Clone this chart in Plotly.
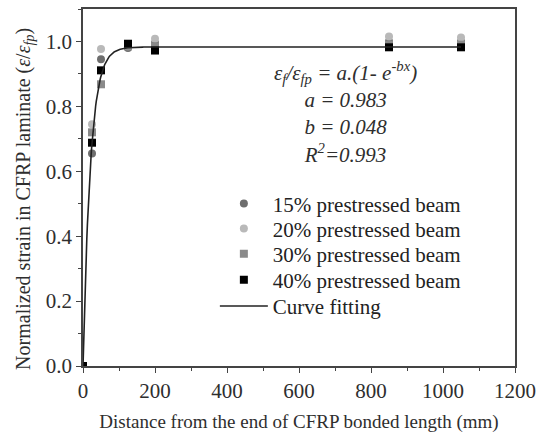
import numpy as np
import plotly.graph_objects as go

# Measured positions along the bonded length (mm)
distance = [0, 25, 50, 125, 200, 850, 1050]

# Normalized strain for each prestress level
strain_15 = [0.0, 0.655, 0.945, 0.980, 0.995, 1.000, 1.000]
strain_20 = [0.0, 0.745, 0.977, 0.985, 1.008, 1.015, 1.012]
strain_30 = [0.0, 0.720, 0.868, 0.985, 0.985, 0.990, 0.990]
strain_40 = [0.0, 0.688, 0.911, 0.993, 0.972, 0.982, 0.982]

series_names = ["15% prestressed beam", "20% prestressed beam",
                "30% prestressed beam", "40% prestressed beam"]
fit_name = "Curve fitting"

# Fitted exponential model parameters
fit_a = 0.983
fit_b = 0.048
fit_r2 = 0.993
fit_x_max = 1050

FONT = "Liberation Serif, Times New Roman, serif"
TEXT = "#2e2e2e"

# Plot-area geometry in pixels (used to place legend rows and the y title)
W, H = 543, 438
ML, MR, MT, MB = 83, 21, 7, 72
PW, PH = W - ML - MR, H - MT - MB


def px_to_paper_y(py):
    return 1 - (py - MT) / PH


def px_to_paper_x(px):
    return (px - ML) / PW


fig = go.Figure()

styles = [
    ("circle", "#6e6e6e"),
    ("circle", "#b9b9b9"),
    ("square", "#8a8a8a"),
    ("square", "#000000"),
]
legend_ids = ["legend", "legend2", "legend3", "legend4", "legend5"]
legend_rows_px = [203, 228, 253.5, 279.5, 306]

for name, ys, (sym, col), lid in zip(series_names,
                                      [strain_15, strain_20, strain_30, strain_40],
                                      styles, legend_ids):
    fig.add_trace(go.Scatter(
        x=distance, y=ys, mode="markers", name=name, legend=lid,
        marker=dict(symbol=sym, color=col, size=8, line=dict(width=0)),
    ))

xf = np.linspace(0, fit_x_max, 600)
yf = fit_a * (1 - np.exp(-fit_b * xf))
fig.add_trace(go.Scatter(
    x=xf, y=yf, mode="lines", name=fit_name, legend=legend_ids[4],
    line=dict(color="#222222", width=1.6),
))

eq_lines = [
    "<i>ε<sub>f</sub>/ε<sub>fp</sub> = a.(1- e<sup>-bx</sup>)</i>",
    f"<i>a = {fit_a:.3f}</i>",
    f"<i>b = {fit_b:.3f}</i>",
    f"<i>R<sup>2</sup>={fit_r2:.3f}</i>",
]
fig.add_annotation(
    x=0.608, y=0.868, xref="paper", yref="paper",
    text="<br>".join(eq_lines), showarrow=False, align="center",
    xanchor="center", yanchor="top",
    font=dict(family=FONT, size=21, color=TEXT),
)

# y-axis title drawn as rotated text
fig.add_annotation(
    x=px_to_paper_x(24), y=px_to_paper_y(198), xref="paper", yref="paper",
    text="Normalized strain in CFRP laminate (<i>ε</i>/<i>ε<sub>fp</sub></i>)",
    textangle=-90, showarrow=False, xanchor="center", yanchor="middle",
    font=dict(family=FONT, size=20, color=TEXT),
)

axis_common = dict(
    showline=True, linecolor="#444444", linewidth=1.5, mirror=True,
    ticks="outside", ticklen=5, tickwidth=1.2, tickcolor="#444444",
    showgrid=False, zeroline=False,
    tickfont=dict(family=FONT, size=21, color=TEXT),
)

fig.update_xaxes(
    range=[0, 1200], tick0=0, dtick=200,
    minor=dict(ticks="outside", ticklen=3, dtick=100, tickcolor="#444444"),
    title=dict(text="Distance from the end of CFRP bonded length (mm)",
               font=dict(family=FONT, size=19, color=TEXT), standoff=13),
    **axis_common,
)
fig.update_yaxes(
    range=[0, 1.1], tick0=0, dtick=0.2, tickformat=".1f",
    minor=dict(ticks="outside", ticklen=3, dtick=0.1, tickcolor="#444444"),
    **axis_common,
)

layout_legends = {}
for lid, row in zip(legend_ids, legend_rows_px):
    layout_legends[lid] = dict(
        x=px_to_paper_x(217), y=px_to_paper_y(row),
        xanchor="left", yanchor="middle",
        bgcolor="rgba(0,0,0,0)", borderwidth=0,
        font=dict(family=FONT, size=21, color="#222222"),
        itemwidth=48,
    )

fig.update_layout(
    width=W, height=H,
    margin=dict(l=ML, r=MR, t=MT, b=MB),
    paper_bgcolor="white", plot_bgcolor="white",
    showlegend=True,
    **layout_legends,
)

fig.write_html("out.html")
